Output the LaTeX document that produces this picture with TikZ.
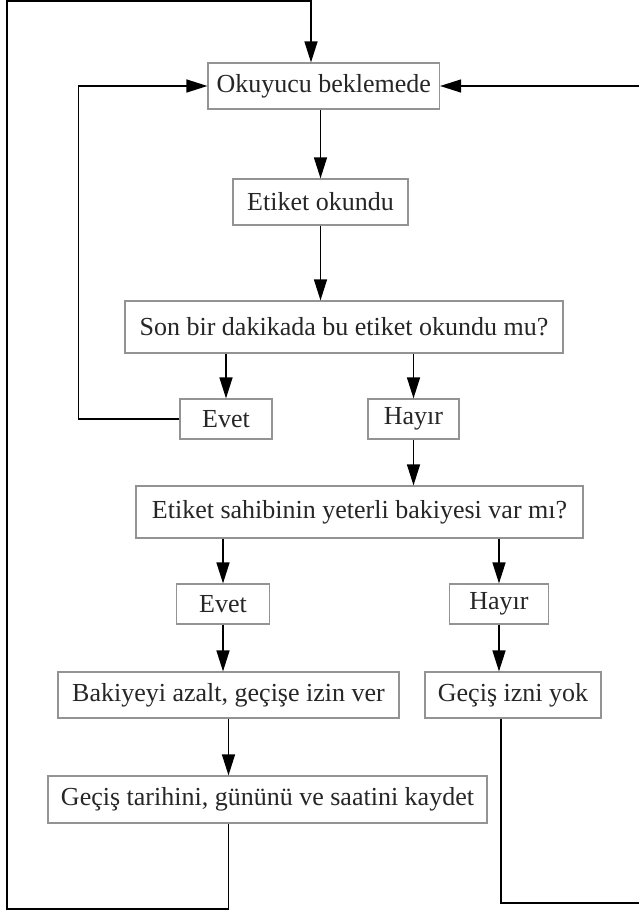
\documentclass[tikz,border=0pt]{standalone}
\usepackage{fontspec}
\setmainfont{Liberation Serif}
\usetikzlibrary{arrows.meta}

\begin{document}
\begin{tikzpicture}[x=0.5pt,y=-0.5pt]
\tikzset{every node/.append style={inner sep=0pt}}
\tikzset{kutu/.style={draw=gray!85,line width=0.6pt,fill=white,align=center,
  text=black!85,font=\fontsize{13}{15}\selectfont}}
\tikzset{ok/.style={black,line width=0.7pt,-{Triangle[length=10.5pt,width=6.5pt]}}}
\tikzset{cizgi/.style={black,line width=0.7pt}}
\useasboundingbox (0,0) rectangle (638,910);
\fill[white] (0,0) rectangle (638,910);
% kutular
\node[kutu,minimum width=115.75pt,minimum height=23pt] (bekle) at (323.75,86) {Okuyucu beklemede};
\node[kutu,minimum width=87.5pt,minimum height=23pt] (okundu) at (320.5,202) {Etiket okundu};
\node[kutu,minimum width=219pt,minimum height=26pt] (soru1) at (344,327) {Son bir dakikada bu etiket okundu mu?};
\node[kutu,minimum width=46pt,minimum height=20pt] (evet1) at (226,419) {Evet};
\node[kutu,minimum width=45.5pt,minimum height=20pt] (hayir1) at (413.5,419) {Hayır};
\node[kutu,minimum width=223.5pt,minimum height=26pt] (soru2) at (359.5,512) {Etiket sahibinin yeterli bakiyesi var mı?};
\node[kutu,minimum width=46.5pt,minimum height=20pt] (evet2) at (223,604) {Evet};
\node[kutu,minimum width=49.5pt,minimum height=20pt] (hayir2) at (499,604) {Hayır};
\node[kutu,minimum width=170.5pt,minimum height=23pt] (azalt) at (228.5,695) {Bakiyeyi azalt, geçişe izin ver};
\node[kutu,minimum width=88pt,minimum height=23pt] (izinyok) at (513,695) {Geçiş izni yok};
\node[kutu,minimum width=219.5pt,minimum height=23.5pt] (kaydet) at (267.5,799.5) {Geçiş tarihini, gününü ve saatini kaydet};
% donus noktalari
\coordinate (solalt) at (7,909);
\coordinate (solust) at (7,1);
\coordinate (ustok) at (311,1);
\coordinate (sagalt) at (641,903);
\coordinate (icsol) at (78.5,86);
% oklar
\draw[ok] (bekle.south -| okundu.north) -- (okundu.north);
\draw[ok] (okundu.south) -- (okundu.south |- soru1.north);
\draw[ok] (soru1.south -| evet1.north) -- (evet1.north);
\draw[ok] (soru1.south -| hayir1.north) -- (hayir1.north);
\draw[ok] (hayir1.south) -- (hayir1.south |- soru2.north);
\draw[ok] (soru2.south -| evet2.north) -- (evet2.north);
\draw[ok] (soru2.south -| hayir2.north) -- (hayir2.north);
\draw[ok] (evet2.south) -- (evet2.south |- azalt.north);
\draw[ok] (hayir2.south) -- (hayir2.south |- izinyok.north);
\draw[ok] (azalt.south) -- (azalt.south |- kaydet.north);
% geri donusler
\draw[ok] (evet1.west) -| (icsol) -- (bekle.west);
\draw[ok] (kaydet.south -| azalt.south) |- (solalt) -- (solust) -- (ustok) -- (ustok |- bekle.north);
\draw[ok] (izinyok.south -| 501,0) |- (sagalt) |- (bekle.east);
\end{tikzpicture}
\end{document}
